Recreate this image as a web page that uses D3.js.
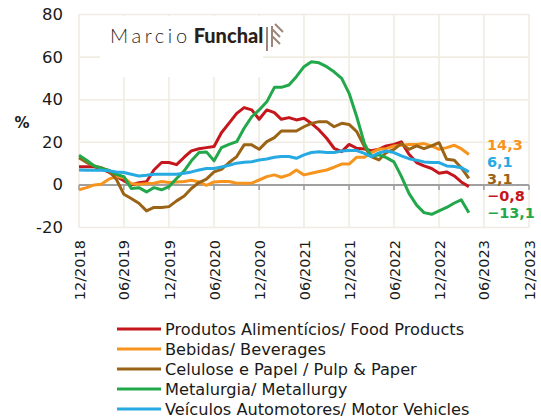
<!DOCTYPE html>
<html>
<head>
<meta charset="utf-8">
<script src="https://cdn.jsdelivr.net/npm/d3@7"></script>
<style>
  body { margin: 0; background: #fff; }
  svg { display: block; font-family: 'DejaVu Sans', Verdana, sans-serif; }
</style>
</head>
<body>
<svg id="chart"></svg>
<script>
// monthly series, 12/2018 .. 04/2023
const startMonth = '12/2018';
const food = [8.5, 8.5, 8.5, 7.5, 6, 4, 2, 0, 1, 1.5, 7, 10.5, 10.5, 9.5, 13, 16, 17, 17.5, 18, 24.5,
  29, 33.6, 36.3, 35.2, 30.8, 35.2, 33.9, 30.8, 31.6, 30.5, 31.3, 28.9, 25.8, 21.9, 17.2, 15.6, 19, 17.2, 16.9, 16,
  16.8, 18.3, 19, 20.2, 14.4, 10.5, 8.9, 7.7, 5.5, 6.1, 4.2, 1.4, -0.8];
const beverages = [-2.3, -1.3, 0, 0.3, 2.7, 3.9, 3.4, 0.6, 0.3, 0.6, 0.8, 1.6, 1.1, 1.4, 1.6, 2.2, 1.4, -0.2, 1.4, 1.6,
  1.6, 0.8, 0.8, 0.8, 2.3, 3.9, 4.7, 3.6, 4.7, 7, 4.7, 5.5, 6.3, 7, 8.3, 9.8, 9.8, 13, 13, 15.2,
  16.8, 17, 18.3, 18.6, 19, 19, 19.4, 18.3, 16.7, 17.5, 18.6, 17, 14.3];
const pulp = [12.8, 10.5, 8.9, 8.1, 6.6, 2.7, -4.4, -6.4, -8.6, -12.2, -10.6, -10.6, -10.2, -7.5, -5.2, -1.7, 1.1, 2.7, 6.1, 7.3,
  10.5, 13.3, 18.8, 18.8, 16.7, 20.3, 22.2, 25.3, 25.3, 25.3, 27.3, 28.9, 29.7, 29.7, 27.3, 28.9, 28.4, 25, 18, 13.3,
  11.7, 15.2, 16.7, 19.4, 16.7, 18.3, 17, 18.3, 19.8, 12, 11.6, 8.1, 3.1];
const metal = [13.9, 11.6, 8.9, 7.7, 6.9, 5, 3.9, -1.7, -1.3, -3.3, -1.3, -2.3, -0.8, 3, 6.6, 11.3, 15.2, 15.5, 11.3, 17.5,
  19, 20.3, 26.6, 32, 35.2, 39, 45.8, 45.8, 46.9, 50.8, 55.5, 57.8, 57.3, 55.5, 53.1, 50, 43, 32, 19.5, 13.3,
  14.1, 12.8, 10.8, 4, -4, -9.5, -13, -13.8, -12.2, -10.6, -8.5, -7, -13.1];
const vehicles = [7, 6.9, 6.9, 6.9, 6.6, 6.1, 5.8, 5, 4.2, 4.5, 5, 5, 5, 5, 5.5, 6.1, 7, 7.7, 7.7, 8.4,
  9.2, 10.2, 10.6, 10.9, 11.7, 12.2, 13, 13.3, 13.3, 12.5, 14.1, 15.2, 15.6, 15.2, 15.2, 15.9, 16.1, 16.1, 14.8, 13.3,
  15, 15.9, 15.2, 13.6, 12.3, 11.6, 10.8, 10.5, 10.5, 8.9, 8.6, 8.1, 6.1];

const seriesNames = [
  'Produtos Alimentícios/ Food Products',
  'Bebidas/ Beverages',
  'Celulose e Papel / Pulp & Paper',
  'Metalurgia/ Metallurgy',
  'Veículos Automotores/ Motor Vehicles'
];
const seriesValues = [food, beverages, pulp, metal, vehicles];
const seriesColors = ['#c4161c', '#f7941d', '#9b6315', '#22a84a', '#27aae1'];

const xTickLabels = ['12/2018', '06/2019', '12/2019', '06/2020', '12/2020', '06/2021',
  '12/2021', '06/2022', '12/2022', '06/2023', '12/2023'];
const yTicks = [-20, 0, 20, 40, 60, 80];

const width = 541, height = 420;
const plot = { left: 79, right: 529, top: 14.5, bottom: 227.5 };

const parseMonth = d3.timeParse('%m/%Y');
const fmt = d3.format('.1f');

const svg = d3.select('#chart').attr('width', width).attr('height', height);

const x = d3.scaleTime()
  .domain([parseMonth(xTickLabels[0]), parseMonth(xTickLabels[xTickLabels.length - 1])])
  .range([plot.left, plot.right]);
const y = d3.scaleLinear().domain([-20, 80]).range([plot.bottom, plot.top]);

const t0 = parseMonth(startMonth);
const series = seriesValues.map((vals, k) => ({
  name: seriesNames[k],
  color: seriesColors[k],
  points: vals.map((v, i) => ({ date: d3.timeMonth.offset(t0, i), value: v }))
}));

const xTicks = xTickLabels.map(parseMonth);

// grid
const grid = svg.append('g').attr('stroke', '#f0ece1').attr('stroke-width', 1.6);
grid.selectAll('.gx').data(xTicks).enter().append('line')
  .attr('x1', d => x(d)).attr('x2', d => x(d))
  .attr('y1', plot.top).attr('y2', plot.bottom);
grid.selectAll('.gy').data(yTicks.filter(d => d !== 0)).enter().append('line')
  .attr('x1', plot.left).attr('x2', plot.right)
  .attr('y1', d => y(d)).attr('y2', d => y(d));

// logo box
svg.append('rect').attr('x', 100).attr('y', 16).attr('width', 163).attr('height', 61).attr('fill', '#fff');
const logo = svg.append('text').attr('x', 110).attr('y', 43)
  .attr('fill', '#2a1f1a').style('font-size', '20px');
logo.append('tspan').text('Marcio')
  .style('font-family', 'Lato').style('font-weight', 300).style('letter-spacing', '3.6px');
logo.append('tspan').attr('dx', 3).text('Funchal')
  .style('font-family', 'Lato').style('font-weight', 900);
svg.append('path')
  .attr('d', 'M267,27 V51 M272,26 V47 M272,29 L280,37 M272,36 L280,44 M275,24 L283,32')
  .attr('stroke', '#9c8679').attr('stroke-width', 2).attr('fill', 'none');

// zero axis
svg.append('line')
  .attr('x1', plot.left).attr('x2', plot.right)
  .attr('y1', y(0)).attr('y2', y(0))
  .attr('stroke', '#a0a0a0').attr('stroke-width', 2);
svg.selectAll('.tick0').data(xTicks).enter().append('line')
  .attr('x1', d => x(d)).attr('x2', d => x(d))
  .attr('y1', y(0)).attr('y2', y(0) + 5)
  .attr('stroke', '#a0a0a0').attr('stroke-width', 1.6);

// lines
const line = d3.line().x(d => x(d.date)).y(d => y(d.value));
svg.selectAll('.series').data(series).enter().append('path')
  .attr('d', d => line(d.points))
  .attr('fill', 'none')
  .attr('stroke', d => d.color)
  .attr('stroke-width', 3)
  .attr('stroke-linejoin', 'round');

// y labels
svg.selectAll('.ylab').data(yTicks).enter().append('text')
  .attr('x', 63).attr('y', d => y(d))
  .attr('text-anchor', 'end').attr('dominant-baseline', 'central')
  .attr('fill', '#1a1a1a').style('font-size', '16.5px')
  .text(d => d);
svg.append('text').attr('x', 22).attr('y', 128).attr('text-anchor', 'middle')
  .attr('fill', '#1a1a1a').style('font-size', '15px').style('font-weight', 'bold')
  .text('%');

// x labels
svg.selectAll('.xlab').data(xTicks).enter().append('text')
  .attr('transform', d => `translate(${x(d) + 0.5},240) rotate(-90)`)
  .attr('text-anchor', 'end').attr('dy', '0.35em')
  .attr('fill', '#1a1a1a').style('font-size', '14.5px')
  .text((d, i) => xTickLabels[i]);

// end labels, pushed apart so they do not overlap
const ends = series.map(s => ({ color: s.color, value: s.points[s.points.length - 1].value }));
ends.forEach(e => { e.y = y(e.value); });
ends.sort((a, b) => a.y - b.y);
const gap = 17;
let groups = ends.map(e => ({ items: [e], target: e.y }));
let merged = true;
while (merged) {
  merged = false;
  for (let i = 0; i < groups.length - 1; i++) {
    const a = groups[i], b = groups[i + 1];
    const aEnd = a.target + (a.items.length - 1) * gap / 2;
    const bStart = b.target - (b.items.length - 1) * gap / 2;
    if (bStart - aEnd < gap) {
      const items = a.items.concat(b.items);
      groups.splice(i, 2, { items, target: d3.mean(items, e => e.y) });
      merged = true;
      break;
    }
  }
}
groups.forEach(g => g.items.forEach((e, j) => {
  e.ly = g.target + (j - (g.items.length - 1) / 2) * gap;
}));
svg.selectAll('.endlab').data(ends).enter().append('text')
  .attr('x', 487).attr('y', d => d.ly - 1.5)
  .attr('dominant-baseline', 'central')
  .attr('fill', d => d.color)
  .style('font-size', '14.5px').style('font-weight', 'bold')
  .text(d => fmt(d.value).replace('.', ','));

// legend
const legend = svg.selectAll('.leg').data(series).enter().append('g')
  .attr('transform', (d, i) => `translate(117,${329 + i * 20})`);
legend.append('line').attr('x1', 0).attr('x2', 44)
  .attr('stroke', d => d.color).attr('stroke-width', 3);
legend.append('text').attr('x', 48).attr('dominant-baseline', 'central')
  .attr('fill', '#1a1a1a').style('font-size', '16.2px')
  .text(d => d.name);
</script>
</body>
</html>
